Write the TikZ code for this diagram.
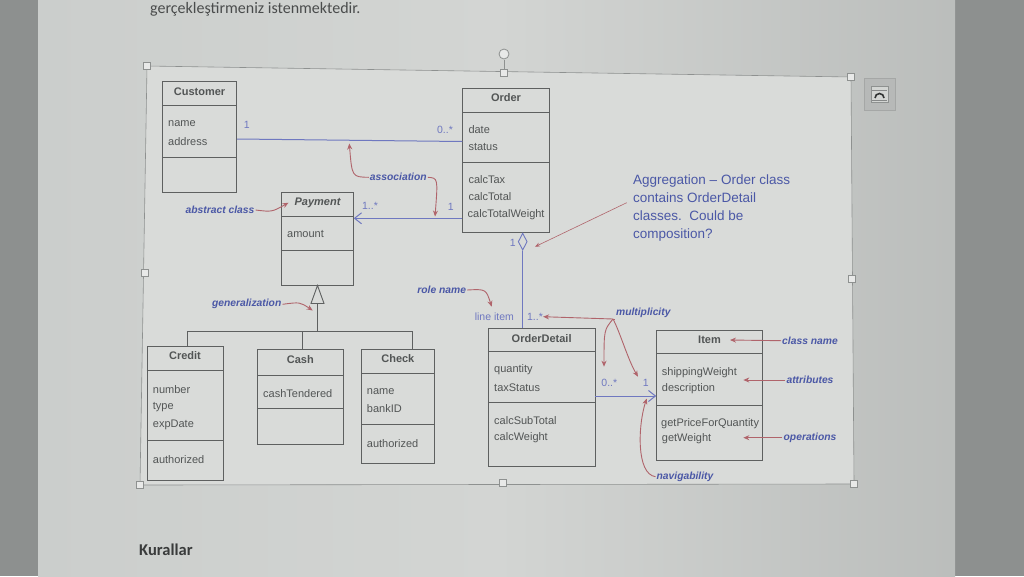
\documentclass[tikz,border=0pt]{standalone}
\usepackage{fontspec}
\setmainfont{Liberation Sans}
\newfontfamily\carl{Carlito}
\usetikzlibrary{arrows.meta,shapes.geometric,calc}
\definecolor{strip}{HTML}{8D908F}
\definecolor{pagec}{HTML}{CBCECC}
\definecolor{pagel}{HTML}{D3D5D3}
\definecolor{diag}{HTML}{D9DBD9}
\definecolor{boxc}{HTML}{5E6060}
\definecolor{txt}{HTML}{525555}
\definecolor{assoc}{HTML}{6F78C0}
\definecolor{annot}{HTML}{4B58A6}
\definecolor{rust}{HTML}{B0646B}
\definecolor{frm}{HTML}{8E9190}
\tikzset{
  cls/.style={draw=boxc, line width=0.9pt, inner sep=0pt},
  dv/.style={draw=boxc, line width=0.9pt},
  hd/.style={font=\fontsize{11}{12}\selectfont\bfseries, text=txt, inner sep=0pt},
  hdi/.style={font=\fontsize{11}{12}\selectfont\bfseries\itshape, text=txt, inner sep=0pt},
  attr/.style={font=\fontsize{11}{12}\selectfont, text=txt, anchor=west, inner sep=0pt},
  ann/.style={font=\fontsize{10.3}{11}\selectfont\bfseries\itshape, text=annot, inner sep=1pt},
  mult/.style={font=\fontsize{10.5}{12}\selectfont, text=assoc, inner sep=0pt},
  notetxt/.style={font=\fontsize{13.5}{18}\selectfont, text=annot, align=left, anchor=north west, inner sep=2pt},
  rarr/.style={draw=rust, line width=0.9pt, -{Stealth[length=6pt,width=5pt]}},
  asc/.style={draw=assoc, line width=1pt},
  openarr/.style={-{Straight Barb[length=7pt,width=11pt]}},
  handle/.style={draw=frm, fill=diag!60!white, line width=0.6pt},
}
\newcommand{\divline}[2]{\draw[dv] (#1.west |- 0,#2) -- (#1.east |- 0,#2);}
\begin{document}
\begin{tikzpicture}[x=1pt,y=-1pt]
\useasboundingbox (0,0) rectangle (1024,576);
\clip (0,0) rectangle (1024,576);
% background photo
\fill[strip] (0,0) rectangle (1024,576);
\shade[left color=pagec, right color=pagec!92!black, middle color=pagel] (38,0) rectangle (955,576);
\node[anchor=base west, font=\carl\fontsize{16}{19}\selectfont, text=txt!90!black, inner sep=0pt] (toptext) at (150,13) {gerçekleştirmeniz istenmektedir.};
\node[anchor=base west, font=\carl\bfseries\fontsize{16.5}{20}\selectfont, text=txt!70!black, inner sep=0pt] (kurallar) at (139,555) {Kurallar};
% picture frame
\draw[draw=frm, fill=diag, line width=0.6pt] (147,66) -- (851,77) -- (854,484) -- (140,485) -- cycle;
\foreach \x/\y in {147/66, 504/73, 851/77, 145/273, 852/279, 140/485, 503/483, 854/484}
  \draw[handle] (\x-3.5,\y-3.5) rectangle (\x+3.5,\y+3.5);
\draw[frm, line width=0.6pt] (504,60) -- (504,69.5);
\draw[frm, line width=0.8pt, fill=diag!60!white] (504,54) circle (5);
% side button
\draw[draw=frm!80!white, fill=pagec!90!black, line width=0.6pt] (864,78) rectangle (895,110);
\draw[draw=frm, fill=pagel, line width=0.5pt] (871,86) rectangle (888,102);
\draw[txt!60!black, line width=1.6pt] (875,98) arc (180:360:4.5);
\draw[txt!70!white, line width=0.6pt] (872,90) -- (887,90) (872,100) -- (887,100);

% ---- classes ----
\node[cls, minimum width=74.2pt, minimum height=110.8pt] (cust) at (199.6,136.9) {};
\divline{cust}{105}\divline{cust}{157.3}
\node[hd] (custh) at (cust.center |- 0,91.7) {Customer};
\node[attr] (custa1) at (168,123.3) {name};
\node[attr] (custa2) at (168,141.7) {address};

\node[cls, minimum width=86.6pt, minimum height=144.4pt] (order) at (506,160.5) {};
\divline{order}{112.3}\divline{order}{162.7}
\node[hd] (orderh) at (order.center |- 0,97.7) {Order};
\node[attr] (ordera1) at (468.3,130) {date};
\node[attr] (ordera2) at (468.3,147.3) {status};
\node[attr] (ordero1) at (468.3,180) {calcTax};
\node[attr] (ordero2) at (468.3,196.7) {calcTotal};
\node[attr] (ordero3) at (467.5,214.3) {calcTotalWeight};

\node[cls, minimum width=71.6pt, minimum height=92.3pt] (pay) at (317.5,238.85) {};
\divline{pay}{216}\divline{pay}{250.7}
\node[hdi] (payh) at (pay.center |- 0,203.3) {Payment};
\node[attr] (paya1) at (287,234) {amount};

\node[cls, minimum width=76pt, minimum height=133.3pt] (credit) at (185,413.35) {};
\divline{credit}{370.7}\divline{credit}{440.7}
\node[hd] (credith) at (credit.center |- 0,356) {Credit};
\node[attr] (credita1) at (152.7,389.3) {number};
\node[attr] (credita2) at (152.7,406.7) {type};
\node[attr] (credita3) at (152.7,425) {expDate};
\node[attr] (credito1) at (152.7,460) {authorized};

\node[cls, minimum width=85.3pt, minimum height=95pt] (cash) at (300.35,396.8) {};
\divline{cash}{375}\divline{cash}{408.3}
\node[hd] (cashh) at (cash.center |- 0,359.3) {Cash};
\node[attr] (casha1) at (263,393.3) {cashTendered};

\node[cls, minimum width=72.3pt, minimum height=114.3pt] (check) at (397.85,406.15) {};
\divline{check}{373.3}\divline{check}{424.3}
\node[hd] (checkh) at (check.center |- 0,359) {Check};
\node[attr] (checka1) at (366.7,391.7) {name};
\node[attr] (checka2) at (366.7,408.3) {bankID};
\node[attr] (checko1) at (366.7,443.3) {authorized};

\node[cls, minimum width=106.7pt, minimum height=138.4pt] (odet) at (541.65,397.5) {};
\divline{odet}{351}\divline{odet}{402.7}
\node[hd] (odeth) at (odet.center |- 0,338.3) {OrderDetail};
\node[attr] (odeta1) at (494,369.3) {quantity};
\node[attr] (odeta2) at (494,387.3) {taxStatus};
\node[attr] (odeto1) at (494,420.7) {calcSubTotal};
\node[attr] (odeto2) at (494,437.7) {calcWeight};

\node[cls, minimum width=105.6pt, minimum height=130pt] (item) at (709.5,395) {};
\divline{item}{353.3}\divline{item}{405}
\node[hd] (itemh) at (item.center |- 0,340) {Item};
\node[attr] (itema1) at (661.7,372.3) {shippingWeight};
\node[attr] (itema2) at (661.7,388.3) {description};
\node[attr] (itemo1) at (661,423.3) {getPriceForQuantity};
\node[attr] (itemo2) at (661.7,439) {getWeight};

% ---- connectors ----
\draw[asc] (cust.east |- 0,139) -- (order.west |- 0,141.5);
\draw[asc, openarr] (order.west |- 0,218.3) -- (pay.east |- 0,218.3);
\node[draw=assoc, fill=diag, line width=0.9pt, diamond, minimum width=9pt, minimum height=17pt, inner sep=0pt, anchor=north] (agg) at (522.7,232.7) {};
\draw[asc] (agg.south) -- (agg.south |- odet.north);
\draw[asc, openarr] (odet.east |- 0,396) -- (item.west |- 0,396);
% generalization
\draw[dv, fill=diag] (pay.south) -- ++(-6.5,18) -- ++(13,0) -- cycle;
\coordinate (genb) at ($(pay.south)+(0,18)$);
\coordinate (gj) at (pay.south |- 0,331.5);
\draw[dv] (genb) -- (gj);
\draw[dv] ([xshift=2pt]credit.north) |- ([xshift=15pt]check.north |- gj) -- ([xshift=15pt]check.north);
\draw[dv] ([xshift=2.5pt]cash.north) -- ([xshift=2.5pt]cash.north |- gj);

% multiplicities / role
\node[mult] (m1) at (246.7,125) {1};
\node[mult] (m2) at (445,130) {0..*};
\node[mult] (m3) at (370,205.7) {1..*};
\node[mult] (m4) at (450.7,206.7) {1};
\node[mult] (m5) at (512.7,242.7) {1};
\node[mult] (role) at (494.3,316.7) {line item};
\node[mult] (m6) at (535,316.7) {1..*};
\node[mult] (m7) at (609.3,383.3) {0..*};
\node[mult] (m8) at (645.7,383.3) {1};

% ---- annotations ----
\node[ann] (assocl) at (398.3,177.3) {association};
\draw[rarr] (assocl.west) .. controls (352,177) .. (349.3,143.5);
\draw[rarr] (assocl.east) .. controls (438,178) .. (435,216.5);
\node[ann] (absl) at (220,210) {abstract class};
\draw[rarr] (absl.east) .. controls (272,212) .. (288.5,202.7);
\node[ann] (genl) at (246.7,304.3) {generalization};
\draw[rarr] (genl.east) .. controls (300,302) .. (312.7,310.5);
\node[ann] (rolel) at (441.7,290) {role name};
\draw[rarr] (rolel.east) .. controls (486,289) .. (491.7,306.7);
\node[ann] (mull) at (643.3,313.3) {multiplicity};
\coordinate (mulj) at (613,319);
\draw[draw=rust, line width=0.9pt] (mulj) -- (mulj -| mull.west);
\draw[rarr] (mulj) -- (m6.east);
\draw[rarr] (mulj) .. controls (604,330) .. (604,366.7);
\draw[rarr] (mulj) .. controls (620,332) and (628,360) .. (638,376.7);
\node[ann] (cnl) at (810,340.7) {class name};
\draw[rarr] (cnl.west) -- (itemh.east -| 730,0);
\node[ann] (atl) at (810,380) {attributes};
\draw[rarr] (atl.west) -- (743.3,380);
\node[ann] (opl) at (810,437.7) {operations};
\draw[rarr] (opl.west) -- (743.3,437.7);
\node[ann] (navl) at (685,476.7) {navigability};
\draw[rarr] (navl.west) .. controls (636,474) and (638,425) .. (646.7,398.5);

% note
\node[notetxt] (note) at (631,172.5) {Aggregation -- Order class\\contains OrderDetail\\classes.\ \ Could be\\composition?};
\draw[draw=rust, line width=0.6pt, -{Stealth[length=5pt,width=4pt]}] (626.7,202.7) -- (535,246.7);
\end{tikzpicture}
\end{document}
